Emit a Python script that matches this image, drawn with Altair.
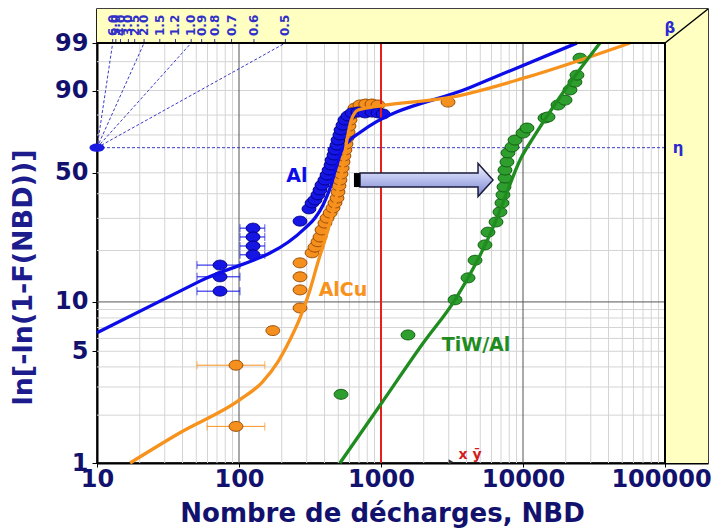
import math
import pandas as pd
import altair as alt

# ---------------- data ----------------
SERIES = ["Al", "AlCu", "TiW/Al"]

AL_N = [73.5, 73.5, 73.5, 125.5, 125.5, 125.5, 125.5, 269, 311, 327, 343, 360, 372, 384, 403, 417,
        431, 445, 452, 467, 474, 490, 498, 514, 523, 540, 557, 586, 625, 689, 771, 864, 953, 1033]
AL_F = [16.5, 14.1, 11.6, 26.6, 23.8, 21.2, 18.9, 29.0, 33.6, 36.0, 37.3, 39.5, 41.7, 44.0, 46.4, 48.9,
        51.4, 54.0, 56.6, 59.3, 62.0, 64.6, 67.3, 70.0, 72.6, 75.1, 77.6, 79.6, 81.0, 81.4, 81.0, 81.4, 81.0, 80.5]

ALCU_N = [95.2, 95.2, 173, 269, 269, 269, 269, 327, 343, 360, 372, 384, 403, 417, 438, 459, 474, 490,
          498, 506, 514, 523, 531, 540, 548, 557, 567, 576, 586, 595, 605, 625, 656, 711, 780, 864, 953, 2965]
ALCU_F = [4.1, 1.7, 6.7, 9.2, 11.8, 14.1, 17.0, 19.4, 20.9, 22.4, 23.8, 26.0, 28.3, 30.1, 32.0, 34.0, 36.0, 38.1,
          40.8, 43.6, 46.4, 49.4, 52.4, 55.6, 58.8, 62.0, 65.2, 68.4, 71.5, 74.6, 77.6, 80.5, 83.2, 84.5, 84.9, 84.9, 84.5, 85.7]

TIW_N = [523, 1549, 3321, 4101, 4593, 5397, 5670, 6457, 6880, 7108, 7225, 7345, 7465, 7465, 7709, 7834,
         8363, 8790, 10000, 10670, 14290, 15000, 17640, 19770, 21430, 23220, 23990, 25180]
TIW_F = [2.7, 6.3, 10.3, 13.9, 17.6, 21.5, 25.3, 28.7, 32.4, 36.0, 39.5, 43.1, 47.4, 51.4, 55.6, 60.4,
         63.6, 67.3, 71.0, 73.6, 78.6, 79.1, 84.5, 86.5, 90.2, 92.6, 94.4, 97.5]

ERR_SERIES = ["Al"] * 7 + ["AlCu"] * 2
ERR_F = [16.5, 14.1, 11.6, 26.6, 23.8, 21.2, 18.9, 4.1, 1.7]
ERR_LO = [50.6, 50.6, 50.6, 101.6, 101.6, 101.6, 101.6, 50.6, 59.5]
ERR_HI = [101.6, 101.6, 101.6, 152, 152, 152, 152, 152, 152]

AL_FIT_N = [10, 53.1, 292, 343, 391, 438, 482, 523, 586, 711, 4236, 23990]
AL_FIT_F = [6.5, 13.3, 26.6, 30.1, 35.2, 42.6, 52.4, 60.9, 66.3, 71.3, 91.0, 99.0]
ALCU_FIT_N = [17.1, 38.4, 101.6, 145, 188, 229, 269, 316, 360, 403, 452, 498, 540, 576, 615, 689, 985,
              3215, 10670, 56750]
ALCU_FIT_F = [1.0, 1.55, 2.5, 3.2, 4.3, 5.9, 8.0, 11.8, 17.2, 22.9, 31.3, 41.7, 54.0, 67.3, 77.1, 82.3, 84.1,
              87.7, 93.9, 99.0]
TIW_FIT_N = [514, 1016, 1976, 3321, 4593, 6048, 7586, 9528, 12150, 18210, 34830]
TIW_FIT_F = [1.0, 2.4, 5.6, 10.3, 16.5, 26.0, 39.5, 56.6, 70.0, 87.7, 99.0]

BETA_LINES = [6.0, 2.0, 1.0, 0.5]
BETA_LABELS = [6.0, 5.0, 4.0, 3.0, 2.5, 2.0, 1.5, 1.2, 1.0, 0.9, 0.8, 0.7, 0.6, 0.5]
ETA_F = 63.212

X_TICKS = [10, 100, 1000, 10000, 100000]
Y_TICKS_PCT = [1, 5, 10, 50, 90, 99]
X_GRID_MINOR = [m * 10 ** e for e in range(1, 5) for m in range(2, 10)]
X_GRID_MAJOR = [100, 1000, 10000]
Y_GRID_MINOR = [2, 3, 4, 5, 6, 7, 8, 9, 20, 30, 40, 50, 70, 80, 90, 97]
Y_GRID_MAJOR = [10]
RED_N = 1000

LABEL_TEXT = ["Al", "AlCu", "TiW/Al"]
LABEL_N = [256, 540, 4667]
LABEL_F = [48.4, 11.8, 5.5]

SYMBOL_TEXT = ["β", "η"]
SYMBOL_N = [108400, 123600]
SYMBOL_F = [99.68, 63.212]

ARROW_N = [2042]
ARROW_F = [46.4]
BAR_N = [677]
XY_TEXT = ["x ȳ"]
XY_N = [4236]
XY_F = [1.12]
XY_ARROW_N = [3112]
XY_ARROW_F = [1.015]

# ---------------- styling / geometry ----------------
FONT = "DejaVu Sans"
NAVY = "#12126e"
FILL = ["#1616e4", "#f5901e", "#2e9e2e"]
EDGE = ["#00008a", "#9a4a00", "#0f5f0f"]
LINE = ["#0c0ce8", "#f7921c", "#1f8c1f"]
BLUE_DASH = "#3a3ac8"
YELLOW = "#ffffc2"

PW, PH = 611, 454
W99 = math.log(-math.log(0.01))
WMIN = math.log(-math.log(0.99))
K = 420 / (W99 - WMIN)
WMAX = W99 + 34 / K
XMAX = 10 ** (1 + 4 * PW / 568)
WEXPR = "log(-log(1-datum.F/100))"

XSCALE = alt.Scale(type="log", domain=[10, XMAX], nice=False)
YSCALE = alt.Scale(domain=[WMIN, WMAX], nice=False, zero=False)

XAXIS = alt.Axis(values=X_TICKS, format="d", title="Nombre de décharges, NBD", grid=False,
                 domainColor="black", domainWidth=2, tickColor="black", tickSize=4, labelPadding=0,
                 labelFont=FONT, labelFontSize=24, labelFontWeight="bold", labelColor=NAVY,
                 labelOffset={"condition": {"test": "datum.value >= 100000", "value": -4}, "value": 0},
                 labelFlush=False, labelOverlap=False,
                 titleFont=FONT, titleFontSize=26, titleFontWeight="bold", titleColor=NAVY,
                 titleX=285, titleY=58, titleAlign="center", titleBaseline="alphabetic")
YAXIS = alt.Axis(values=[math.log(-math.log(1 - p / 100)) for p in Y_TICKS_PCT],
                 labelExpr="round(100*(1-exp(-exp(datum.value))))",
                 title="ln[-ln(1-F(NBD))]", grid=False,
                 domainColor="black", domainWidth=2, tickColor="black", tickSize=5, labelPadding=4,
                 labelFont=FONT, labelFontSize=24, labelFontWeight="bold", labelColor=NAVY,
                 labelFlush=False, labelOverlap=False,
                 titleFont=FONT, titleFontSize=27, titleFontWeight="bold", titleColor="#1c1c8c",
                 titleX=-74, titleY=268, titleAngle=270, titleAlign="center", titleBaseline="middle")


def X(f):
    return alt.X(f, type="quantitative", scale=XSCALE, axis=XAXIS)


def Y(f):
    return alt.Y(f, type="quantitative", scale=YSCALE, axis=YAXIS)


COLOR = alt.Color("series:N", scale=alt.Scale(domain=SERIES, range=LINE), legend=None)

layers = []

# yellow 3D frame bands
bands = pd.DataFrame({"x0": [10, 100000], "x1": [XMAX, XMAX], "y0": [W99, WMIN], "y1": [WMAX, W99]})
layers.append(alt.Chart(bands).mark_rect(color=YELLOW).encode(
    x=X("x0"), x2="x1", y=Y("y0"), y2="y1"))


# grid lines
def vgrid(vals, color, width):
    d = pd.DataFrame({"gx": vals, "y0": WMIN, "y1": W99})
    return alt.Chart(d).mark_rule(color=color, strokeWidth=width).encode(x=X("gx"), y=Y("y0"), y2="y1")


def hgrid(vals, color, width):
    d = pd.DataFrame({"F": vals, "x0": 10, "x1": 100000})
    return alt.Chart(d).transform_calculate(w=WEXPR).mark_rule(color=color, strokeWidth=width).encode(
        y=Y("w"), x=X("x0"), x2="x1")


layers += [vgrid(X_GRID_MINOR, "#d4d4d4", 1), hgrid(Y_GRID_MINOR, "#d4d4d4", 1),
           vgrid(X_GRID_MAJOR, "#555555", 1), hgrid(Y_GRID_MAJOR, "#555555", 1)]

# eta line and beta lines
eta = pd.DataFrame({"F": [ETA_F], "x0": [10], "x1": [100000]})
layers.append(alt.Chart(eta).transform_calculate(w=WEXPR).mark_rule(
    color=BLUE_DASH, strokeWidth=1, strokeDash=[3, 2]).encode(y=Y("w"), x=X("x0"), x2="x1"))

bl = pd.DataFrame({"beta": BETA_LINES})
layers.append(alt.Chart(bl).transform_calculate(
    bx=f"10*exp({W99}/datum.beta)", x0="10", y0="0", y1=str(W99)).mark_rule(
    color=BLUE_DASH, strokeWidth=1, strokeDash=[3, 2]).encode(
    x=X("x0"), x2="bx", y=Y("y0"), y2="y1"))

blab = pd.DataFrame({"beta": BETA_LABELS})
layers.append(alt.Chart(blab).transform_calculate(
    bx=f"10*exp({W99}/datum.beta)", y0=str(W99), y1=str(W99 + 4 / K)).mark_rule(
    color="#333399", strokeWidth=1).encode(x=X("bx"), y=Y("y0"), y2="y1"))
layers.append(alt.Chart(blab).transform_calculate(
    bx=f"10*exp({W99}/datum.beta)", by=str(W99 + 7 / K),
    lab="format(datum.beta, '.1f')").mark_text(
    angle=270, align="left", baseline="middle", font=FONT, fontSize=12, fontWeight="bold",
    color="#3030c8").encode(x=X("bx"), y=Y("by"), text="lab:N"))

# error bars
err = pd.DataFrame({"series": ERR_SERIES, "F": ERR_F, "lo": ERR_LO, "hi": ERR_HI})
layers.append(alt.Chart(err).transform_calculate(w=WEXPR).mark_rule(strokeWidth=1).encode(
    x=X("lo"), x2="hi", y=Y("w"), color=COLOR))
layers.append(alt.Chart(err).transform_calculate(w=WEXPR).transform_fold(["lo", "hi"], as_=["end", "xe"]).mark_tick(
    orient="vertical", size=8, thickness=1).encode(x=X("xe"), y=Y("w"), color=COLOR))

# data points
ELLIPSE = "M -1 0 A 1 0.72 0 1 0 1 0 A 1 0.72 0 1 0 -1 0 Z"
pts = pd.DataFrame({
    "series": ["AlCu"] * len(ALCU_N) + ["Al"] * len(AL_N) + ["TiW/Al"] * len(TIW_N),
    "N": ALCU_N + AL_N + TIW_N,
    "F": ALCU_F + AL_F + TIW_F,
})
layers.append(alt.Chart(pts).transform_calculate(w=WEXPR).mark_point(
    shape=ELLIPSE, size=190, filled=True, opacity=1, strokeWidth=1).encode(
    x=X("N"), y=Y("w"),
    fill=alt.Fill("series:N", scale=alt.Scale(domain=SERIES, range=FILL), legend=None),
    stroke=alt.Stroke("series:N", scale=alt.Scale(domain=SERIES, range=EDGE), legend=None)))

# red line at 1000
red = pd.DataFrame({"x": [RED_N], "y0": [WMIN], "y1": [W99]})
layers.append(alt.Chart(red).mark_rule(color="#e3201c", strokeWidth=2).encode(x=X("x"), y=Y("y0"), y2="y1"))

# fitted curves
fits = pd.DataFrame({
    "series": ["Al"] * len(AL_FIT_N) + ["AlCu"] * len(ALCU_FIT_N) + ["TiW/Al"] * len(TIW_FIT_N),
    "N": AL_FIT_N + ALCU_FIT_N + TIW_FIT_N,
    "F": AL_FIT_F + ALCU_FIT_F + TIW_FIT_F,
})
layers.append(alt.Chart(fits).transform_calculate(w=WEXPR).mark_line(
    interpolate="monotone", strokeWidth=3.3).encode(x=X("N"), y=Y("w"), color=COLOR))

# block arrow
ARROW = "M -65 -7 L 53 -7 L 53 -16.5 L 68 0 L 53 16.5 L 53 7 L -65 7 Z"
BAR = "M -3 -7 L 3 -7 L 3 7 L -3 7 Z"
grad = alt.LinearGradient(gradient="linear", x1=0, x2=0, y1=0, y2=1, stops=[
    alt.GradientStop(color="#f4f5ff", offset=0),
    alt.GradientStop(color="#bcc3ee", offset=0.45),
    alt.GradientStop(color="#7783cc", offset=1)])
arr = pd.DataFrame({"N": ARROW_N, "F": ARROW_F})
layers.append(alt.Chart(arr).transform_calculate(w=WEXPR).mark_point(
    shape=ARROW, size=4, filled=True, fill=grad, stroke="#1c1c3c", strokeWidth=1.5, opacity=1).encode(
    x=X("N"), y=Y("w")))
bar = pd.DataFrame({"N": BAR_N, "F": ARROW_F})
layers.append(alt.Chart(bar).transform_calculate(w=WEXPR).mark_point(
    shape=BAR, size=4, filled=True, fill="#000000", opacity=1).encode(x=X("N"), y=Y("w")))

# inner frame + diagonal
frame = pd.DataFrame({"x0": [10, 100000], "x1": [100000, 100000], "y0": [W99, WMIN], "y1": [W99, W99]})
layers.append(alt.Chart(frame).mark_rule(color="black", strokeWidth=2).encode(
    x=X("x0"), x2="x1", y=Y("y0"), y2="y1"))
diag = pd.DataFrame({"x0": [100000], "x1": [XMAX], "y0": [W99], "y1": [WMAX]})
layers.append(alt.Chart(diag).mark_rule(color="black", strokeWidth=1.5).encode(
    x=X("x0"), x2="x1", y=Y("y0"), y2="y1"))

# eta dot
dot = pd.DataFrame({"N": [10], "F": [ETA_F]})
layers.append(alt.Chart(dot).transform_calculate(w=WEXPR).mark_point(
    shape="M -1 0 A 1 0.55 0 1 0 1 0 A 1 0.55 0 1 0 -1 0 Z", size=225, filled=True,
    fill="#1a1ae0", opacity=1).encode(x=X("N"), y=Y("w")))

# texts
lab = pd.DataFrame({"series": LABEL_TEXT, "N": LABEL_N, "F": LABEL_F})
layers.append(alt.Chart(lab).transform_calculate(w=WEXPR).mark_text(
    font=FONT, fontSize=19, fontWeight="bold", align="center", baseline="middle").encode(
    x=X("N"), y=Y("w"), text="series:N", color=COLOR))

sym = pd.DataFrame({"t": SYMBOL_TEXT, "N": SYMBOL_N, "F": SYMBOL_F})
layers.append(alt.Chart(sym).transform_calculate(w=WEXPR).mark_text(
    font=FONT, fontSize=15, fontWeight="bold", color="#2a2ad0", align="center", baseline="middle").encode(
    x=X("N"), y=Y("w"), text="t:N"))

xy = pd.DataFrame({"t": XY_TEXT, "N": XY_N, "F": XY_F})
layers.append(alt.Chart(xy).transform_calculate(w=WEXPR).mark_text(
    font=FONT, fontSize=14, fontWeight="bold", color="#d02020", align="center", baseline="middle").encode(
    x=X("N"), y=Y("w"), text="t:N"))
xya = pd.DataFrame({"N": XY_ARROW_N, "F": XY_ARROW_F})
layers.append(alt.Chart(xya).transform_calculate(w=WEXPR).mark_point(
    shape="triangle-right", size=30, filled=True, fill="#303030", opacity=1).encode(x=X("N"), y=Y("w")))

chart = alt.layer(*layers).properties(
    width=PW, height=PH,
    padding={"left": 89, "top": 1, "right": 4, "bottom": 65},
    autosize=alt.AutoSizeParams(type="none"),
).configure_view(stroke="black", strokeWidth=1.5)

chart.save("out.html", embed_options={"renderer": "svg", "actions": False})
